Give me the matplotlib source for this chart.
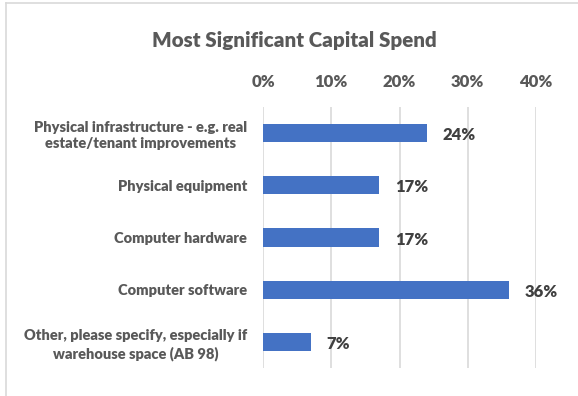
import matplotlib
matplotlib.use("Agg")
import matplotlib.pyplot as plt
from matplotlib.lines import Line2D

plt.rcParams['font.family'] = ['Lato', 'DejaVu Sans']

categories = ["Physical infrastructure - e.g. real\nestate/tenant improvements",
              "Physical equipment",
              "Computer hardware",
              "Computer software",
              "Other, please specify, especially if\nwarehouse space (AB 98)"]
shares = [24, 17, 17, 36, 7]
x_ticks = [0, 10, 20, 30, 40]

bar_color = "#4472C4"
text_color = "#595959"
value_color = "#404040"
grid_color = "#D9D9D9"

W, H = 578, 396
fig = plt.figure(figsize=(W / 100, H / 100), dpi=100)
ax = fig.add_axes([263 / W, 1 - 368 / H, (536 - 263) / W, (368 - 107) / H])

pos = list(range(len(categories)))
ax.barh(pos, shares, height=0.35, color=bar_color, zorder=3)

ax.set_xlim(0, 40)
ax.set_ylim(len(categories) - 0.5, -0.5)
ax.set_xticks(x_ticks)
ax.set_xticklabels([f"{t}%" for t in x_ticks])
ax.xaxis.tick_top()
ax.set_yticks(pos)
ax.set_yticklabels(categories, ha="right", multialignment="center", linespacing=1.3)

ax.tick_params(axis="x", length=0, pad=12, labelsize=12, labelcolor=text_color)
ax.tick_params(axis="y", length=0, pad=11.5, labelsize=10.5, labelcolor=text_color)
for lbl in ax.get_xticklabels() + ax.get_yticklabels():
    lbl.set_fontweight("heavy")

ax.grid(axis="x", color=grid_color, linewidth=1.2, zorder=0)
for s in ax.spines.values():
    s.set_visible(False)

for p, v in zip(pos, shares):
    ax.text(v + 2.3, p + 0.04, f"{v}%", va="center", ha="left",
            fontsize=12, fontweight="heavy", color=value_color)

fig.text(294 / W, 1 - 40 / H, "Most Significant Capital Spend", ha="center",
         va="center", fontsize=14.8, fontweight="heavy", color=text_color)

# chart area frame
fig.add_artist(Line2D([6 / W, 6 / W], [0, 1 - 3 / H], color="#D9D9D9", linewidth=1.2))
fig.add_artist(Line2D([6 / W, 1], [1 - 3 / H, 1 - 3 / H], color="#D9D9D9", linewidth=1.2))

fig.savefig("out.png", dpi=100)
